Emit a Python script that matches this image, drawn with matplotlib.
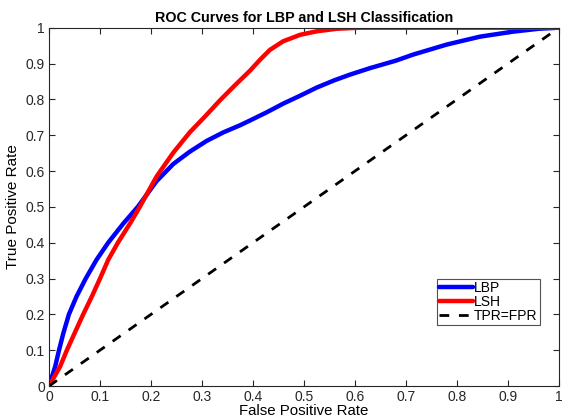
import matplotlib
matplotlib.use('Agg')
import matplotlib.pyplot as plt

plt.rcParams['font.family'] = ['Liberation Sans', 'DejaVu Sans']

# values
lbp_fpr = [0, 0.012, 0.0196, 0.028, 0.039, 0.054, 0.072, 0.093, 0.116, 0.146, 0.174,
           0.211, 0.244, 0.276, 0.309, 0.342, 0.375, 0.394, 0.427, 0.459, 0.492,
           0.525, 0.559, 0.59, 0.629, 0.68, 0.714, 0.78, 0.845, 0.91, 0.96, 1.0]
lbp_tpr = [0, 0.054, 0.1, 0.147, 0.2, 0.25, 0.3, 0.352, 0.4, 0.454, 0.5,
           0.572, 0.62, 0.654, 0.684, 0.708, 0.728, 0.741, 0.764, 0.788, 0.81,
           0.833, 0.853, 0.869, 0.887, 0.908, 0.925, 0.953, 0.975, 0.989, 0.997, 1.0]

lsh_fpr = [0, 0.0216, 0.035, 0.05, 0.067, 0.084, 0.1, 0.116, 0.135, 0.159, 0.178,
           0.211, 0.244, 0.276, 0.309, 0.335, 0.365, 0.394, 0.414, 0.433, 0.459,
           0.492, 0.525, 0.564, 0.61, 0.7, 1.0]
lsh_tpr = [0, 0.054, 0.1, 0.147, 0.2, 0.25, 0.3, 0.352, 0.4, 0.454, 0.5,
           0.585, 0.652, 0.708, 0.757, 0.797, 0.84, 0.88, 0.911, 0.938, 0.962,
           0.98, 0.99, 0.997, 1.0, 1.0, 1.0]

ticks = [0, 0.1, 0.2, 0.3, 0.4, 0.5, 0.6, 0.7, 0.8, 0.9, 1]
tick_labels = ['0', '0.1', '0.2', '0.3', '0.4', '0.5', '0.6', '0.7', '0.8', '0.9', '1']

fig = plt.figure(figsize=(5.68, 4.17), dpi=100)
ax = fig.add_axes([0.0863, 0.0743, 0.898, 0.8593])

ax.plot(lbp_fpr, lbp_tpr, color='#0000ff', lw=3.2, label='LBP',
        solid_joinstyle='round', solid_capstyle='round')
ax.plot(lsh_fpr, lsh_tpr, color='#ff0000', lw=3.2, label='LSH',
        solid_joinstyle='round', solid_capstyle='round')
ax.plot([0, 1], [0, 1], color='black', lw=2, ls=(0, (3.5, 3.5)), label='TPR=FPR')

ax.set_xlim(0, 1)
ax.set_ylim(0, 1)
ax.set_xticks(ticks)
ax.set_xticklabels(tick_labels)
ax.set_yticks(ticks)
ax.set_yticklabels(tick_labels)
ax.tick_params(direction='in', top=True, right=True, length=4, width=0.8,
               labelsize=10, colors='#262626', pad=3)
for s in ax.spines.values():
    s.set_color('#262626')
    s.set_linewidth(0.8)

ax.set_title('ROC Curves for LBP and LSH Classification', fontsize=10.3,
             fontweight='bold', pad=4)
ax.set_xlabel('False Positive Rate', fontsize=10.8, labelpad=0)
ax.set_ylabel('True Positive Rate', fontsize=11, labelpad=4)

leg = ax.legend(loc='lower left', bbox_to_anchor=(0.761, 0.17), fontsize=10,
                frameon=True, fancybox=False, handlelength=2.4, handletextpad=0.1,
                borderpad=0.15, labelspacing=0.0, borderaxespad=0)
leg.get_frame().set_edgecolor('#262626')
leg.get_frame().set_linewidth(0.8)

fig.savefig('out.png', dpi=100)
